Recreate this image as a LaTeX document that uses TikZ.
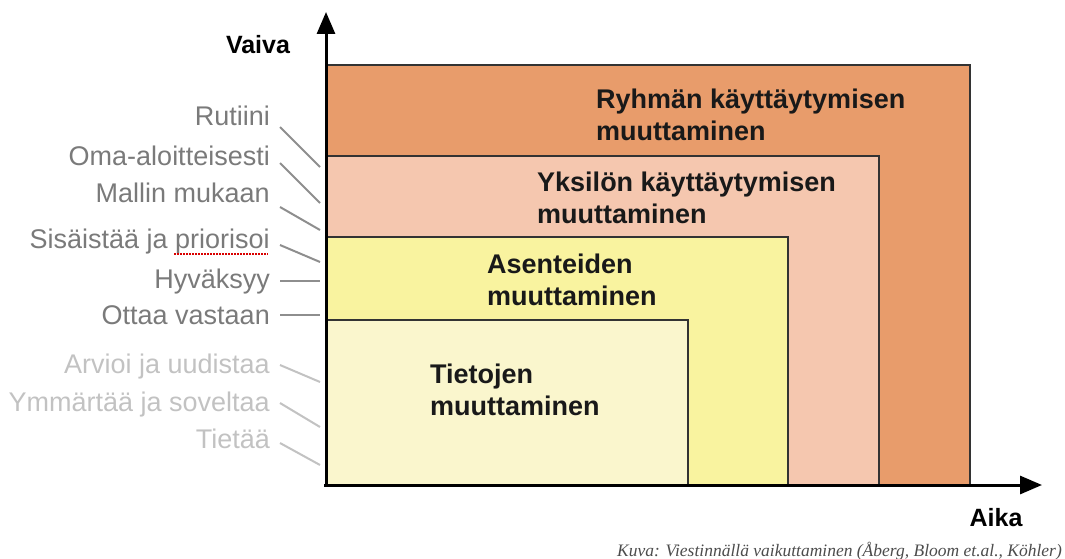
\documentclass[tikz,border=0pt]{standalone}
\usepackage{fontspec}
\setmainfont{Liberation Sans}
\newfontfamily\capfont{Liberation Serif}
\usetikzlibrary{arrows.meta}
\definecolor{cOrange}{HTML}{E89C6B}
\definecolor{cPink}{HTML}{F5C7AF}
\definecolor{cYellow}{HTML}{F9F39F}
\definecolor{cLight}{HTML}{FAF6CD}
\definecolor{cDark}{HTML}{7A7A7A}
\definecolor{cPale}{HTML}{C2C2C2}
\tikzset{
  box/.style={draw=black!80, line width=1.3pt},
  axis/.style={line width=3pt, -{Triangle[length=22pt,width=18pt]}},
  big/.style={font=\bfseries\fontsize{27}{32}\selectfont, align=left, anchor=north west, inner sep=0pt, text=black!90},
  lab/.style={font=\fontsize{27}{30}\selectfont, anchor=base east, inner sep=0pt},
  darklab/.style={lab, text=cDark},
  palelab/.style={lab, text=cPale},
  darkline/.style={draw=cDark!85, line width=2pt},
  paleline/.style={draw=cPale, line width=2pt},
  axlab/.style={font=\bfseries\fontsize{25}{30}\selectfont, inner sep=0pt}
}
\begin{document}
\begin{tikzpicture}[x=1pt,y=-1pt]
\useasboundingbox (0,0) rectangle (1065,559);
% boxes
\coordinate (O) at (326,485);
\draw[box, fill=cOrange] (O) rectangle (970,65);
\draw[box, fill=cPink] (O) rectangle (879,156);
\draw[box, fill=cYellow] (O) rectangle (788,237);
\draw[box, fill=cLight] (O) rectangle (688,320);
% axes
\coordinate (ytip) at (326,12);
\coordinate (xtip) at (1042,485);
\coordinate (ystart) at (326,487);
\coordinate (xstart) at (324,485);
\draw[axis] (ystart) -- (ytip);
\draw[axis] (xstart) -- (xtip);
\node[axlab] (vaiva) at (258,45) {Vaiva};
\node[axlab] (aika) at (996,518) {Aika};
% box texts
\node[big] (t1) at (596,89) {Ryhmän käyttäytymisen\\muuttaminen};
\node[big] (t2) at (537,172) {Yksilön käyttäytymisen\\muuttaminen};
\node[big] (t3) at (487,254) {Asenteiden\\muuttaminen};
\node[big] (t4) at (430,364) {Tietojen\\muuttaminen};
% left labels
\node[darklab] (l1) at (270,126) {Rutiini};
\node[darklab] (l2) at (270,165) {Oma-aloitteisesti};
\node[darklab] (l3) at (270,202) {Mallin mukaan};
\node[darklab] (l4) at (270,248) {Sisäistää ja priorisoi};
\node[darklab] (l5) at (270,288) {Hyväksyy};
\node[darklab] (l6) at (270,324) {Ottaa vastaan};
\node[palelab] (l7) at (270,373) {Arvioi ja uudistaa};
\node[palelab] (l8) at (270,411) {Ymmärtää ja soveltaa};
\node[palelab] (l9) at (270,448) {Tietää};
% spell-check underline
\coordinate (u1) at (174,254);
\coordinate (u2) at (268,254);
\draw[red!85!black, line width=1.5pt, dash pattern=on 1.5pt off 1.5pt] (u1) -- (u2);
% connector lines
\coordinate (a1) at (280,127); \coordinate (b1) at (320,167);
\coordinate (a2) at (280,163); \coordinate (b2) at (320,203);
\coordinate (a3) at (280,207); \coordinate (b3) at (320,230);
\coordinate (a4) at (280,245); \coordinate (b4) at (320,262);
\coordinate (a5) at (280,281); \coordinate (b5) at (320,281);
\coordinate (a6) at (280,315); \coordinate (b6) at (320,315);
\coordinate (a7) at (280,365); \coordinate (b7) at (320,382);
\coordinate (a8) at (280,403); \coordinate (b8) at (320,427);
\coordinate (a9) at (280,443); \coordinate (b9) at (320,465);
\foreach \i in {1,...,6} {\draw[darkline] (a\i) -- (b\i);}
\foreach \i in {7,8,9} {\draw[paleline] (a\i) -- (b\i);}
% caption
\node[font=\capfont\itshape\fontsize{17.5}{20}\selectfont, text=black!70, anchor=base east, inner sep=0pt] (cap) at (1062,556) {Kuva: Viestinnällä vaikuttaminen (Åberg, Bloom et.al., Köhler)};
\end{tikzpicture}
\end{document}
